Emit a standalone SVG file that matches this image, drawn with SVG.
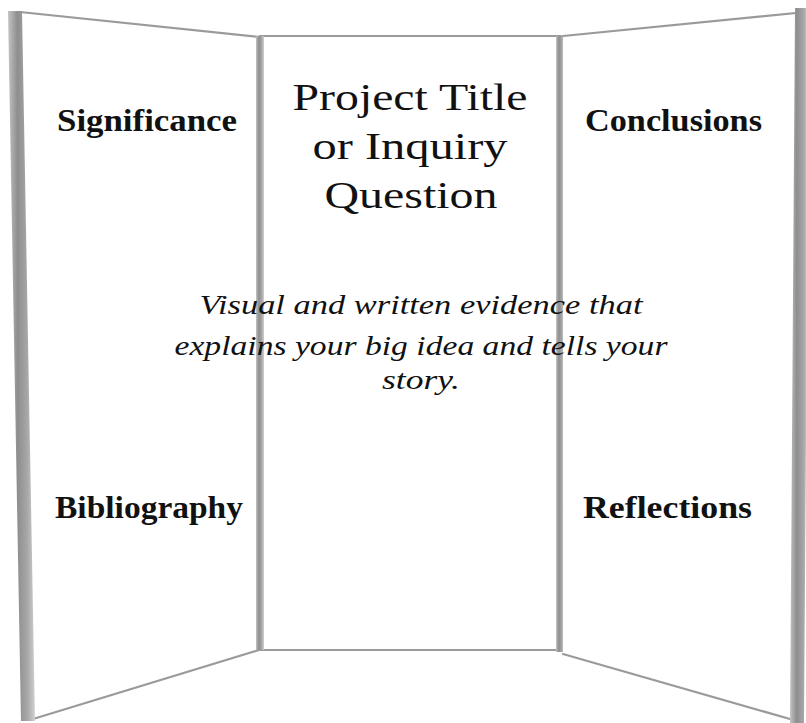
<svg xmlns="http://www.w3.org/2000/svg" width="806" height="723" viewBox="0 0 806 723">
  <defs>
    <linearGradient id="rod" x1="0" y1="0" x2="1" y2="0">
      <stop offset="0" stop-color="#c4c4c4"/>
      <stop offset="0.35" stop-color="#8e8e8e"/>
      <stop offset="0.7" stop-color="#a6a6a6"/>
      <stop offset="1" stop-color="#d0d0d0"/>
    </linearGradient>
    <style>
      .panel { fill: #ffffff; }
      .edge { fill: none; stroke: #9a9a9a; stroke-width: 2.2; stroke-linecap: round; }
      .rod { fill: url(#rod); }
      .head { font-family: "Liberation Serif", "DejaVu Serif", serif; font-weight: bold; font-size: 31px; fill: #111; }
      .title { font-family: "Liberation Serif", "DejaVu Serif", serif; font-size: 38px; fill: #111; text-anchor: middle; }
      .body { font-family: "Liberation Serif", "DejaVu Serif", serif; font-style: italic; font-size: 27px; fill: #111; text-anchor: middle; }
    </style>
  </defs>
  <rect width="806" height="723" fill="#ffffff"/>

  <!-- left wing of the display board -->
  <g id="left-panel">
    <polygon class="panel" points="20,12 260,37 260,650 30,720"/>
    <path class="edge" d="M20,12 L260,37"/>
    <path class="edge" d="M33,719 L259,650"/>
    <polygon class="rod" points="8,11 22,11 35,721 21,721"/>
    <text class="head" x="57" y="131" textLength="180" lengthAdjust="spacingAndGlyphs">Significance</text>
    <text class="head" x="55" y="518" textLength="188" lengthAdjust="spacingAndGlyphs">Bibliography</text>
  </g>

  <!-- centre panel -->
  <g id="center-panel">
    <rect class="panel" x="260" y="36" width="301" height="614"/>
    <path class="edge" d="M260,36 L561,36"/>
    <path class="edge" d="M260,650 L561,650"/>
    <rect class="rod" x="256" y="36" width="8" height="614"/>
    <rect class="rod" x="556" y="36" width="8" height="616"/>
    <text class="title" x="410" y="110" textLength="235" lengthAdjust="spacingAndGlyphs">Project Title</text>
    <text class="title" x="410" y="159" textLength="195" lengthAdjust="spacingAndGlyphs">or Inquiry</text>
    <text class="title" x="411" y="208" textLength="173" lengthAdjust="spacingAndGlyphs">Question</text>
  </g>

  <!-- right wing of the display board -->
  <g id="right-panel">
    <polygon class="panel" points="563,36 800,12 797,720 563,654"/>
    <path class="edge" d="M563,36 L806,12"/>
    <path class="edge" d="M563,654 L790,719"/>
    <polygon class="rod" points="795,8 809,8 804,723 790,723"/>
    <text class="head" x="585" y="131" textLength="177" lengthAdjust="spacingAndGlyphs">Conclusions</text>
    <text class="head" x="583" y="518" textLength="169" lengthAdjust="spacingAndGlyphs">Reflections</text>
  </g>

  <!-- description spanning the centre -->
  <g id="description">
    <text class="body" x="421" y="314" textLength="443" lengthAdjust="spacingAndGlyphs">Visual and written evidence that</text>
    <text class="body" x="421" y="355" textLength="493" lengthAdjust="spacingAndGlyphs">explains your big idea and tells your</text>
    <text class="body" x="421" y="389" textLength="78" lengthAdjust="spacingAndGlyphs">story.</text>
  </g>
</svg>
